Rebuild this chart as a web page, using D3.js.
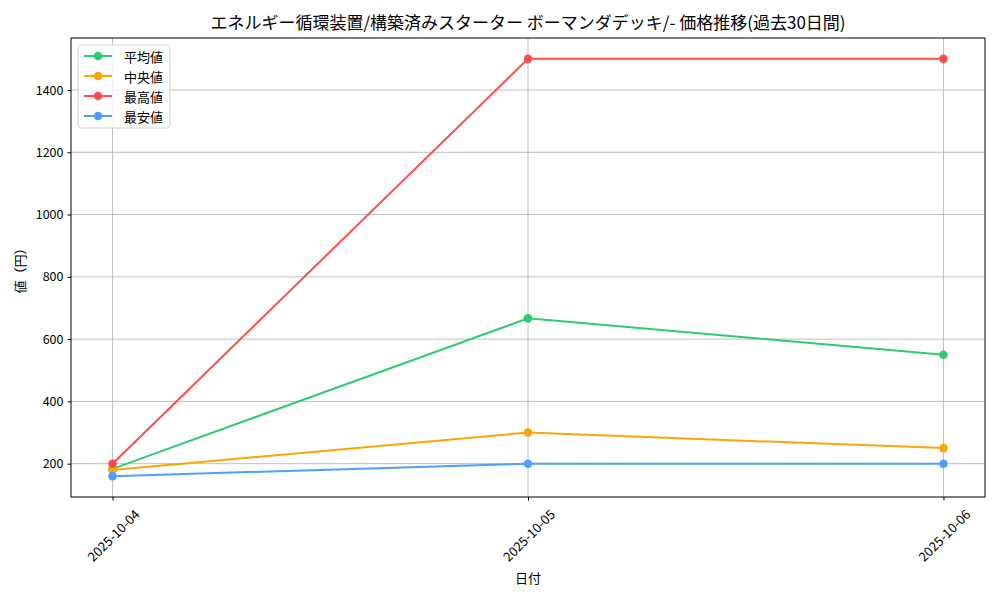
<!DOCTYPE html>
<html><head><meta charset="utf-8">
<script src="https://cdn.jsdelivr.net/npm/d3@7"></script>
<style>body{margin:0;background:#fff;} text{font-family:"Noto Sans CJK JP","DejaVu Sans",sans-serif;}</style>
</head><body>
<svg id="c" width="1000" height="600"></svg>
<script>
const dates = ["2025-10-04","2025-10-05","2025-10-06"];
const avgVals = [183.3, 666.7, 550];
const medVals = [180, 300, 250];
const maxVals = [200, 1500, 1500];
const minVals = [160, 200, 200];
const yTicks = [200,400,600,800,1000,1200,1400];
const seriesNames = ["平均値","中央値","最高値","最安値"];
const seriesColors = ["#2ecc71","#ffa500","#ff4d4d","#4d9eff"];
const series = [avgVals, medVals, maxVals, minVals];

const svg = d3.select("#c");
const L=71, R=985, T=38, B=497;
const xr = d3.scaleLinear().domain([-0.1, 2.1]).range([L,R]);
const xp = d => xr(dates.indexOf(d));
const all = series.flat();
const mn = d3.min(all), mx = d3.max(all), pad=(mx-mn)*0.05;
const y = d3.scaleLinear().domain([mn-pad, mx+pad]).range([B,T]);

// grid
const g = svg.append("g");
g.selectAll(".gy").data(yTicks).enter().append("line")
 .attr("x1",L).attr("x2",R).attr("y1",d=>y(d)).attr("y2",d=>y(d))
 .attr("stroke","#b0b0b0").attr("stroke-width",0.8);
g.selectAll(".gx").data(dates).enter().append("line")
 .attr("x1",d=>xp(d)).attr("x2",d=>xp(d)).attr("y1",T).attr("y2",B)
 .attr("stroke","#b0b0b0").attr("stroke-width",0.8);

// axes
const ya = svg.append("g").attr("transform",`translate(${L},0)`)
 .call(d3.axisLeft(y).tickValues(yTicks).tickSize(3.5).tickPadding(4).tickFormat(d3.format("d")));
ya.select(".domain").remove();
ya.selectAll("text").attr("font-size",12.5).attr("fill","#000");
ya.selectAll("line").attr("stroke","#000");
const xa = svg.append("g").attr("transform",`translate(0,${B})`)
 .call(d3.axisBottom(xr).tickValues([0,1,2]).tickSize(3.5).tickFormat(i=>dates[i]));
xa.select(".domain").remove();
xa.selectAll("line").attr("stroke","#000");
xa.selectAll("text").attr("font-size",13).attr("fill","#000")
 .attr("text-anchor","middle").attr("dy",null).attr("y",0)
 .attr("transform","translate(0,38) rotate(-45)").attr("dominant-baseline","central");

svg.append("rect").attr("x",L).attr("y",T).attr("width",R-L).attr("height",B-T)
 .attr("fill","none").attr("stroke","#000").attr("stroke-width",1);

// lines
const line = d3.line().x((d,i)=>xr(i)).y(d=>y(d));
series.forEach((s,k)=>{
  const gg = svg.append("g");
  gg.append("path").datum(s).attr("d",line).attr("fill","none")
    .attr("stroke",seriesColors[k]).attr("stroke-width",2);
  gg.selectAll("circle").data(s).enter().append("circle")
    .attr("cx",(d,i)=>xr(i)).attr("cy",d=>y(d)).attr("r",4.3).attr("fill",seriesColors[k]);
});

// titles
svg.append("text").attr("x",(L+R)/2).attr("y",T-9).attr("text-anchor","middle")
 .attr("font-size",17).text("エネルギー循環装置/構築済みスターター ボーマンダデッキ/- 価格推移(過去30日間)");
svg.append("text").attr("x",(L+R)/2).attr("y",583).attr("text-anchor","middle")
 .attr("font-size",13).text("日付");
svg.append("text").attr("transform",`translate(25,${(T+B)/2}) rotate(-90)`).attr("text-anchor","middle")
 .attr("font-size",13).text("値（円）");

// legend
const lg = svg.append("g");
lg.append("rect").attr("x",78).attr("y",45).attr("width",92).attr("height",83).attr("rx",3)
 .attr("fill","#fff").attr("fill-opacity",0.8).attr("stroke","#d0d0d0").attr("stroke-width",1);
seriesNames.forEach((n,k)=>{
  const yy = 56 + k*20;
  lg.append("line").attr("x1",84).attr("x2",112).attr("y1",yy).attr("y2",yy)
    .attr("stroke",seriesColors[k]).attr("stroke-width",2);
  lg.append("circle").attr("cx",98).attr("cy",yy).attr("r",4.3).attr("fill",seriesColors[k]);
  lg.append("text").attr("x",124).attr("y",yy).attr("dominant-baseline","central")
    .attr("font-size",13).text(n);
});
</script>
</body></html>
